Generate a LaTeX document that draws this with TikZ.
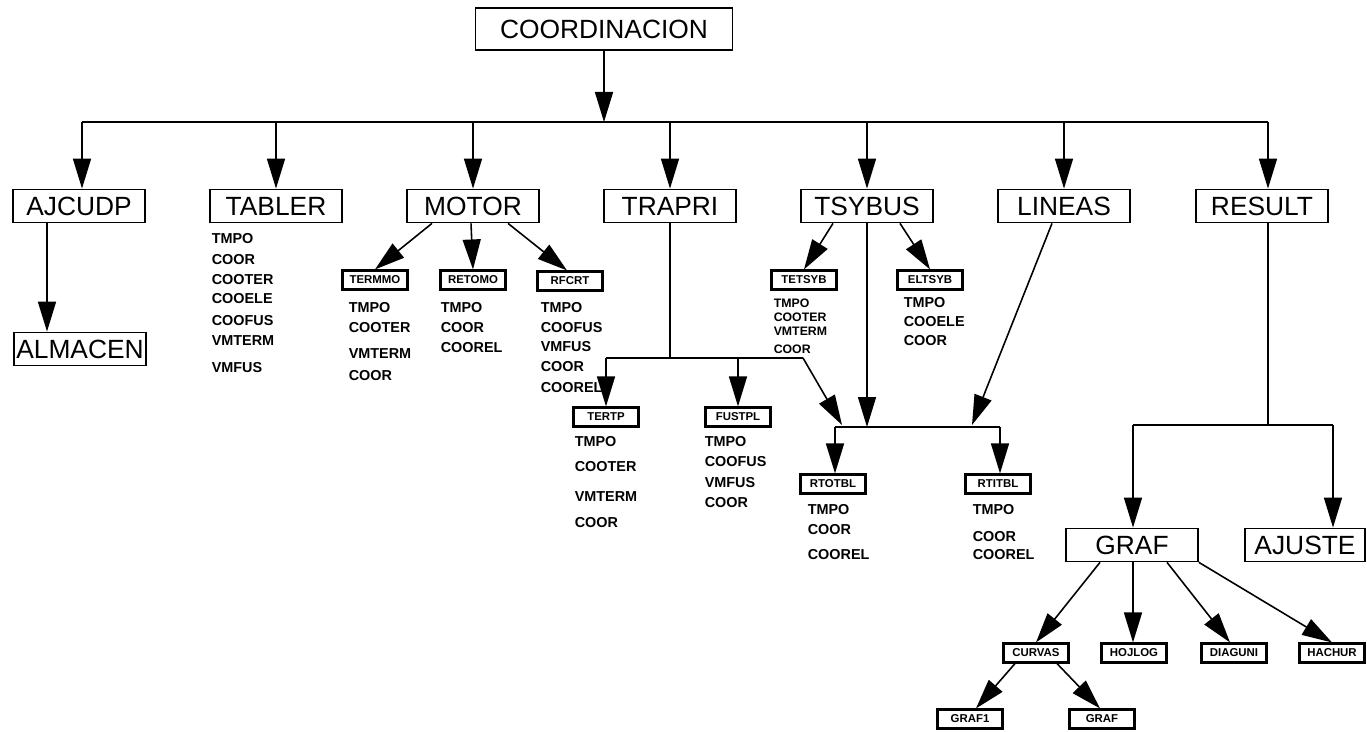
\documentclass[tikz,border=0pt]{standalone}
\usepackage{fontspec}
\setmainfont{Liberation Sans}
\usetikzlibrary{arrows.meta,calc}

\tikzset{
  big/.style={draw,line width=1pt,minimum width=2.64cm,minimum height=0.66cm,
    inner sep=0pt,font=\fontsize{15}{15}\selectfont},
  sm/.style={draw,line width=1.2pt,minimum width=1.3cm,minimum height=0.38cm,
    inner sep=0pt,font=\fontsize{6.5}{6.5}\selectfont\bfseries},
  it/.style={anchor=west,inner sep=0pt,font=\fontsize{8.2}{8.2}\selectfont\bfseries},
  arr/.style={-{Triangle[length=6mm,width=3.6mm]}},
}

\begin{document}
\begin{tikzpicture}[x=0.02cm,y=-0.02cm,line width=0.9pt]
\useasboundingbox (0,0) rectangle (1367,732);

% first level
\node[big,minimum width=5.14cm,minimum height=0.84cm] (coord) at (604,29) {COORDINACION};
\node[big] (ajcudp) at (79,206) {AJCUDP};
\node[big] (tabler) at (276,206) {TABLER};
\node[big] (motor) at (473,206) {MOTOR};
\node[big] (trapri) at (670,206) {TRAPRI};
\node[big] (tsybus) at (867,206) {TSYBUS};
\node[big] (lineas) at (1064,206) {LINEAS};
\node[big] (result) at (1262,206) {RESULT};
\node[big] (almacen) at (80,349) {ALMACEN};
\node[big] (graf) at (1132,545) {GRAF};
\node[big,minimum width=2.4cm] (ajuste) at (1305,545) {AJUSTE};

% small boxes
\node[sm] (termmo) at (375,280) {TERMMO};
\node[sm] (retomo) at (473,280) {RETOMO};
\node[sm] (rfcrt) at (570,281) {RFCRT};
\node[sm] (tetsyb) at (804,280) {TETSYB};
\node[sm] (eltsyb) at (930,280) {ELTSYB};
\node[sm] (tertp) at (606,417) {TERTP};
\node[sm] (fustpl) at (738,417) {FUSTPL};
\node[sm] (rtotbl) at (833,484) {RTOTBL};
\node[sm] (rtitbl) at (998,484) {RTITBL};
\node[sm] (curvas) at (1036,653) {CURVAS};
\node[sm] (hojlog) at (1134,653) {HOJLOG};
\node[sm] (diaguni) at (1234,653) {DIAGUNI};
\node[sm] (hachur) at (1332,653) {HACHUR};
\node[sm] (grafa) at (970,719) {GRAF1};
\node[sm] (grafb) at (1102,719) {GRAF};

% variable lists
\foreach \t/\y [count=\i] in {TMPO/239,COOR/260,COOTER/280,COOELE/299,COOFUS/321,VMTERM/341,VMFUS/368}
  \node[it] (tab\i) at (211,\y) {\t};
\foreach \t/\y [count=\i] in {TMPO/308,COOTER/328,VMTERM/354,COOR/376}
  \node[it] (ter\i) at (348,\y) {\t};
\foreach \t/\y [count=\i] in {TMPO/308,COOR/328,COOREL/348}
  \node[it] (ret\i) at (440,\y) {\t};
\foreach \t/\y [count=\i] in {TMPO/308,COOFUS/328,VMFUS/347,COOR/367,COOREL/388}
  \node[it] (rfc\i) at (540,\y) {\t};
\foreach \t/\y [count=\i] in {TMPO/303,COOTER/317,VMTERM/331,COOR/349}
  \node[it,font=\fontsize{7}{7}\selectfont\bfseries] (tet\i) at (773,\y) {\t};
\foreach \t/\y [count=\i] in {TMPO/303,COOELE/322,COOR/341}
  \node[it] (elt\i) at (903,\y) {\t};
\foreach \t/\y [count=\i] in {TMPO/442,COOTER/467,VMTERM/497,COOR/523}
  \node[it] (trt\i) at (574,\y) {\t};
\foreach \t/\y [count=\i] in {TMPO/442,COOFUS/462,VMFUS/483,COOR/503}
  \node[it] (fus\i) at (704,\y) {\t};
\foreach \t/\y [count=\i] in {TMPO/510,COOR/530,COOREL/555}
  \node[it] (rto\i) at (807,\y) {\t};
\foreach \t/\y [count=\i] in {TMPO/510,COOR/537,COOREL/555}
  \node[it] (rti\i) at (972,\y) {\t};

% junction points
\coordinate (bus) at (604,122);
\coordinate (jtr) at (670,358);
\coordinate (jtl) at (606,358);
\coordinate (jtf) at (738,358);
\coordinate (jtd) at (803,358);
\coordinate (jrl) at (835,427);
\coordinate (jrr) at (1000,427);
\coordinate (jgr) at (1268,425);
\coordinate (jgl) at (1133,425);
\coordinate (jga) at (1333,425);

% main bus
\draw[arr] (coord) -- (bus);
\draw ($(ajcudp.north |- bus)+(3,0)$) -- (1268,122);
\draw[arr] ($(ajcudp.north |- bus)+(3,0)$) -- ($(ajcudp.north)+(3,0)$);
\foreach \n in {tabler,motor,trapri,tsybus,lineas}
  \draw[arr] (\n.north |- bus) -- (\n.north);
\draw[arr] (jgr |- bus) -- (jgr |- result.north);

\draw[arr] ($(ajcudp.south)+(-32,0)$) -- ($(almacen.north)+(-33,0)$);

% MOTOR
\draw[arr] ($(motor.south)+(-41,0)$) -- (termmo.north);
\draw[arr] ($(motor.south)+(-2,0)$) -- (retomo.north);
\draw[arr] ($(motor.south)+(35,0)$) -- ($(rfcrt.north)+(-3,0)$);

% TSYBUS
\draw[arr] ($(tsybus.south)+(-34,0)$) -- (tetsyb.north);
\draw[arr] ($(tsybus.south)+(33,0)$) -- (eltsyb.north);
\draw[arr] (tsybus.south) -- (tsybus.south |- jrl);

% TRAPRI
\draw (trapri.south) -- (jtr);
\draw (jtl) -- (jtd);
\draw[arr] (jtl) -- (tertp.north);
\draw[arr] (jtf) -- (fustpl.north);
\draw[arr] (jtd) -- (842,425);

% LINEAS
\draw[arr] ($(lineas.south)+(-12,0)$) -- (972,425);

% output tables
\draw (jrl) -- (jrr);
\draw[arr] (jrl) -- (jrl |- rtotbl.north);
\draw[arr] (jrr) -- (jrr |- rtitbl.north);

% RESULT
\draw (result.south -| jgr) -- (jgr);
\draw (jgl) -- (jga);
\draw[arr] (jgl) -- (jgl |- graf.north);
\draw[arr] (jga) -- (jga |- ajuste.north);

% GRAF
\draw[arr] ($(graf.south)+(-32,0)$) -- (curvas.north);
\draw[arr] ($(graf.south)+(1,0)$) -- ($(hojlog.north)+(-1,0)$);
\draw[arr] ($(graf.south)+(35,0)$) -- ($(diaguni.north)+(-4,0)$);
\draw[arr] (graf.south east) -- (hachur.north);

\draw[arr] ($(curvas.south)+(-21,0)$) -- ($(grafa.north)+(6,0)$);
\draw[arr] ($(curvas.south)+(21,0)$) -- ($(grafb.north)+(-2,0)$);
\end{tikzpicture}
\end{document}
